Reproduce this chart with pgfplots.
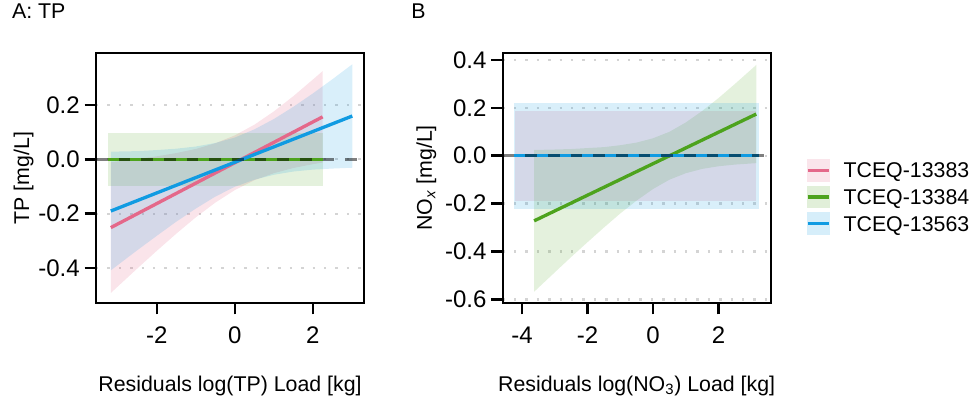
\documentclass[border=0pt]{standalone}
\usepackage{fontspec}
\setmainfont{Liberation Sans}
\usepackage{pgfplots}
\pgfplotsset{compat=1.18}

\definecolor{c83}{RGB}{228,104,138}
\definecolor{c84}{RGB}{77,163,29}
\definecolor{c63}{RGB}{16,155,226}

\pgfplotsset{
  resid/.style={
    scale only axis, width=201pt, height=187.5pt,
    axis line style={line width=1.5pt},
    tick style={black, line width=1.9pt},
    tick align=outside, major tick length=8.5pt,
    xtick pos=bottom, ytick pos=left,
    ymajorgrids,
    major grid style={draw=black!17, line width=1.75pt, dash pattern=on 1.75pt off 6.8pt},
    tick label style={font=\fontsize{18}{21}\selectfont},
    yticklabel style={inner sep=0pt, anchor=east},
    xticklabel style={inner sep=0pt, anchor=base},
    yticklabel shift=3.5pt, xticklabel shift=21.5pt,
    label style={font=\fontsize{16}{19}\selectfont, inner sep=0pt},
    title style={font=\fontsize{16}{19}\selectfont, inner sep=0pt, anchor=base west},
    xlabel style={at={(0.5,-0.352)}, anchor=base},
  },
  fit/.style={#1, line width=2.5pt, forget plot},
  zero/.style={black, opacity=0.5, line width=2.6pt, dash pattern=on 8.75pt off 8.25pt, forget plot},
  key/.style={legend image code/.code={
    \colorlet{keyfill}{#1!17!white}%
    \pgfpathrectangle{\pgfpoint{0pt}{-8.5pt}}{\pgfpoint{17.25pt}{17pt}}%
    \pgfsetfillcolor{keyfill}\pgfusepath{fill}%
    \pgfpathmoveto{\pgfpoint{0.5pt}{0pt}}\pgfpathlineto{\pgfpoint{16.75pt}{0pt}}%
    \pgfsetstrokecolor{#1}\pgfsetlinewidth{2.5pt}\pgfusepath{stroke}}},
}

\begin{document}
\begin{tikzpicture}[font=\fontsize{16}{19}\selectfont]
\useasboundingbox (0,0) rectangle (726.75pt,300pt);

% A: TP
\begin{axis}[resid, at={(72pt,72.75pt)},
  xmin=-3.56, xmax=3.31, ymin=-0.528, ymax=0.3905,
  xtick={-2,0,2}, xticklabels={-2,0,2},
  ytick={-0.4,-0.2,0,0.2}, yticklabels={-0.4,-0.2,0.0,0.2},
  title={A: TP}, title style={at={(-0.314,1.105)}},
  xlabel={Residuals log(TP) Load [kg]},
  ylabel={TP [mg/L]}, ylabel style={at={(-0.25,0.5)}, anchor=base},
]
\addplot[draw=none, fill=c83, fill opacity=0.18, forget plot] coordinates {
  (-3.18,-0.011) (-2.5,0.001) (-2,0.011) (-1.5,0.023) (-1,0.038) (-0.5,0.059)
  (0,0.088) (0.5,0.127) (1,0.176) (1.5,0.232) (2,0.293) (2.25,0.324)
  (2.25,-0.012) (2,-0.018) (1.5,-0.032) (1,-0.051) (0.5,-0.077) (0,-0.113)
  (-0.5,-0.159) (-1,-0.213) (-1.5,-0.273) (-2,-0.336) (-2.5,-0.401) (-3.18,-0.491)
};
\addplot[draw=none, fill=c84, fill opacity=0.15, forget plot] coordinates {
  (-3.26,0.095) (2.25,0.095) (2.25,-0.097) (-3.26,-0.097)
};
\addplot[draw=none, fill=c63, fill opacity=0.16, forget plot] coordinates {
  (-3.18,0.028) (-2.5,0.030) (-2,0.034) (-1.5,0.039) (-1,0.047) (-0.5,0.060)
  (0,0.080) (0.5,0.110) (1,0.148) (1.5,0.193) (2,0.242) (2.5,0.294) (3.01,0.349)
  (3.01,-0.031) (2.5,-0.034) (2,-0.038) (1.5,-0.045) (1,-0.057) (0.5,-0.075)
  (0,-0.101) (-0.5,-0.137) (-1,-0.181) (-1.5,-0.229) (-2,-0.281) (-2.5,-0.334) (-3.18,-0.408)
};
\addplot[fit=c83] coordinates {(-3.18,-0.251) (2.25,0.156)};
\addplot[fit=c84] coordinates {(-3.26,0) (2.25,0)};
\addplot[fit=c63] coordinates {(-3.18,-0.190) (3.01,0.159)};
\addplot[zero] coordinates {(-3.56,0) (3.31,0)};
\end{axis}

% B: NOx
\begin{axis}[resid, at={(377pt,72.75pt)},
  xmin=-4.59, xmax=3.59, ymin=-0.615, ymax=0.429,
  xtick={-4,-2,0,2}, xticklabels={-4,-2,0,2},
  ytick={-0.6,-0.4,-0.2,0,0.2,0.4}, yticklabels={-0.6,-0.4,-0.2,0.0,0.2,0.4},
  title={B}, title style={at={(-0.3417,1.105)}},
  xlabel={Residuals log(NO\textsubscript{3}) Load [kg]},
  ylabel={NO\textsubscript{\textit{x}} [mg/L]}, ylabel style={at={(-0.2644,0.5)}, anchor=base},
  legend style={at={(1.1304,0.424)}, anchor=west, draw=none, fill=none, inner sep=0pt,
    row sep=3pt, column sep=9.5pt, nodes={inner sep=0pt, text depth=0pt},
    font=\fontsize{16}{19}\selectfont},
  legend cell align=left,
]
\addplot[draw=none, fill=c83, fill opacity=0.18, forget plot] coordinates {
  (-4.21,0.188) (3.15,0.188) (3.15,-0.188) (-4.21,-0.188)
};
\addplot[draw=none, fill=c84, fill opacity=0.15, forget plot] coordinates {
  (-3.63,0.024) (-3,0.026) (-2.5,0.028) (-2,0.032) (-1.5,0.036) (-1,0.044) (-0.5,0.055)
  (0,0.073) (0.5,0.100) (1,0.139) (1.5,0.187) (2,0.241) (2.5,0.300) (3.15,0.379)
  (3.15,-0.031) (2.5,-0.037) (2,-0.044) (1.5,-0.055) (1,-0.073) (0.5,-0.100) (0,-0.139)
  (-0.5,-0.187) (-1,-0.241) (-1.5,-0.300) (-2,-0.361) (-2.5,-0.423) (-3,-0.487) (-3.63,-0.568)
};
\addplot[draw=none, fill=c63, fill opacity=0.16, forget plot] coordinates {
  (-4.24,0.222) (3.23,0.222) (3.23,-0.222) (-4.24,-0.222)
};
\addplot[fit=c83] coordinates {(-4.21,0) (3.15,0)};
\addplot[fit=c84] coordinates {(-3.63,-0.272) (3.15,0.174)};
\addplot[fit=c63] coordinates {(-4.24,0) (3.23,0)};
\addplot[zero] coordinates {(-4.59,0) (3.59,0)};

\addlegendimage{key=c83}
\addlegendentry{TCEQ-13383}
\addlegendimage{key=c84}
\addlegendentry{TCEQ-13384}
\addlegendimage{key=c63}
\addlegendentry{TCEQ-13563}
\end{axis}
\end{tikzpicture}
\end{document}
